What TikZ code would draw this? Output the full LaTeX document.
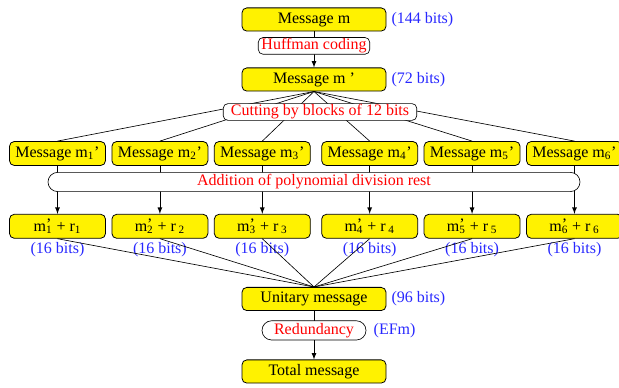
\documentclass[tikz,border=0pt]{standalone}
\usepackage{fontspec}
\setmainfont{Liberation Serif}
\usetikzlibrary{positioning,arrows}
\definecolor{bitblue}{RGB}{40,40,255}
\definecolor{opred}{RGB}{255,0,0}
\newcommand{\mpr}[1]{m\rlap{\raisebox{1pt}{'}}\textsubscript{#1}}
\tikzset{
  msgbox/.style={draw=black, fill=yellow, rounded corners=3pt, line width=0.5pt,
    minimum width=60pt, minimum height=15pt, inner sep=0pt},
  bigbox/.style={msgbox, minimum width=90pt, minimum height=14.5pt},
  opbox/.style={draw=black, fill=white, text=opred, rounded corners=3pt, line width=0.4pt,
    minimum height=10.5pt, inner xsep=2pt, inner ysep=0pt},
  pill/.style={opbox, rounded corners=6pt, minimum height=12pt},
  bits/.style={text=bitblue, inner sep=0pt},
  link/.style={line width=0.4pt},
  flow/.style={link, -latex}
}

\begin{document}
\begin{tikzpicture}[x=0.625pt, y=-0.625pt, node distance=30pt and 3.5pt]
  \useasboundingbox (0,0) rectangle (619,388);
  % main column
  \node[bigbox] (msg)  at (314,19.5) {Message m};
  \node[bigbox] (msgp) at (314,79.5) {Message m '};
  \node[bits, right=3pt of msg]  (b144) {(144 bits)};
  \node[bits, right=3pt of msgp] (b72)  {(72 bits)};
  \draw[flow] (msg) -- node[opbox, pos=0.4] (huff) {Huffman coding} (msgp);

  % blocks of 12 bits
  \node[msgbox] (m1) at (57.5,153.5) {Message m\textsubscript{1}'};
  \node[msgbox, right=of m1] (m2) {Message m\textsubscript{2}'};
  \node[msgbox, right=of m2] (m3) {Message m\textsubscript{3}'};
  \node[msgbox, right=of m3, xshift=3.1pt] (m4) {Message m\textsubscript{4}'};
  \node[msgbox, right=of m4] (m5) {Message m\textsubscript{5}'};
  \node[msgbox, right=of m5] (m6) {Message m\textsubscript{6}'};

  % blocks with division rest
  \node[msgbox, below=of m1] (r1) {\mpr{1} + r\textsubscript{1}};
  \node[msgbox, below=of m2] (r2) {\mpr{2} + r\,\textsubscript{2}};
  \node[msgbox, below=of m3] (r3) {\mpr{3} + r\,\textsubscript{3}};
  \node[msgbox, below=of m4] (r4) {\mpr{4} + r\,\textsubscript{4}};
  \node[msgbox, below=of m5] (r5) {\mpr{5} + r\,\textsubscript{5}};
  \node[msgbox, below=of m6] (r6) {\mpr{6} + r\,\textsubscript{6}};
  \node[bits, below=2pt of r1] (s1) {(16 bits)};
  \node[bits, below=2pt of r2] (s2) {(16 bits)};
  \node[bits, below=2pt of r3] (s3) {(16 bits)};
  \node[bits, below=2pt of r4] (s4) {(16 bits)};
  \node[bits, below=2pt of r5] (s5) {(16 bits)};
  \node[bits, below=2pt of r6] (s6) {(16 bits)};

  \draw[link] (msgp.south) -- (m1.north);
  \draw[link] (msgp.south) -- (m2.north);
  \draw[link] (msgp.south) -- (m3.north);
  \draw[link] (msgp.south) -- (m4.north);
  \draw[link] (msgp.south) -- (m5.north);
  \draw[link] (msgp.south) -- (m6.north);
  \node[opbox, minimum width=121pt] (cut) at (320,112) {Cutting by blocks of 12 bits};

  \draw[flow] (m1) -- (r1);
  \draw[flow] (m2) -- (r2);
  \draw[flow] (m3) -- (r3);
  \draw[flow] (m4) -- (r4);
  \draw[flow] (m5) -- (r5);
  \draw[flow] (m6) -- (r6);
  \node[pill, minimum width=332.5pt] (add) at (314,182) {Addition of polynomial division rest};

  % unitary and total message
  \node[bigbox] (unit)  at (314,299)   {Unitary message};
  \node[bigbox] (total) at (314,371.5) {Total message};
  \node[bits, right=3pt of unit] (b96) {(96 bits)};
  \draw[link] (r1.south) -- (unit.north);
  \draw[link] (r2.south) -- (unit.north);
  \draw[link] (r3.south) -- (unit.north);
  \draw[link] (r4.south) -- (unit.north);
  \draw[link] (r5.south) -- (unit.north);
  \draw[link] (r6.south) -- (unit.north);
  \draw[flow] (unit) -- node[pill, pos=0.4, minimum width=65pt] (red) {Redundancy} (total);
  \node[bits, right=4.4pt of red] (efm) {(EFm)};
\end{tikzpicture}
\end{document}
